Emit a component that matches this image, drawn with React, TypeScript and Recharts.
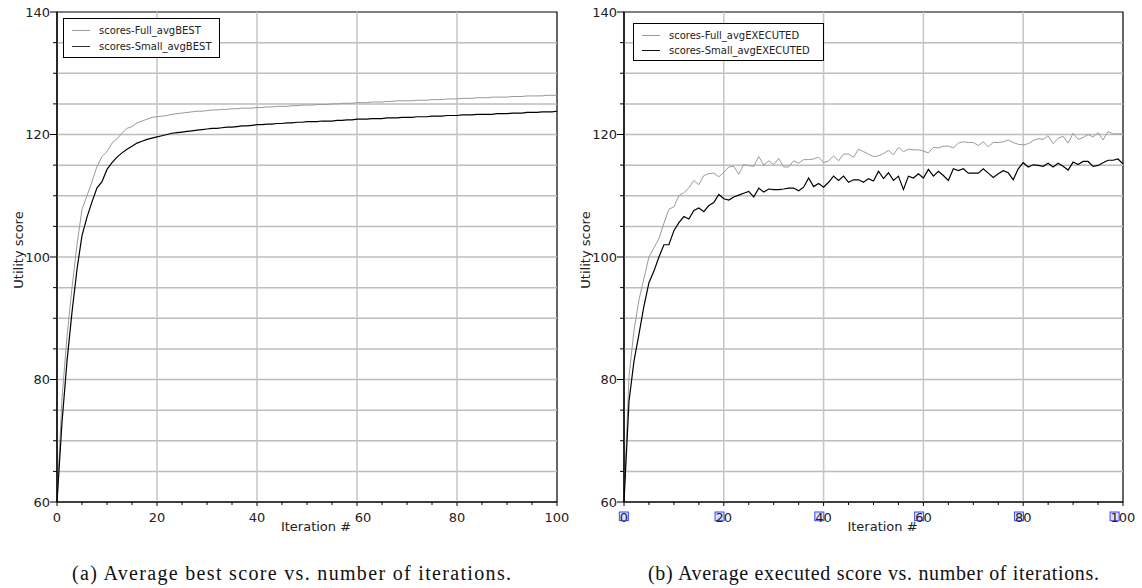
import React from "react"
import {
  Line,
  LineChart,
  ReferenceArea,
  ReferenceLine,
  XAxis,
  YAxis,
} from "recharts"

// iteration index 0..100
const iterations = Array.from({ length: 101 }, (_, i) => i)

const xTicks = [0, 5, 10, 15, 20, 25, 30, 35, 40, 45, 50, 55, 60, 65, 70, 75, 80, 85, 90, 95, 100]
const yTicks = [60, 65, 70, 75, 80, 85, 90, 95, 100, 105, 110, 115, 120, 125, 130, 135, 140]
const xGrid = [20, 40, 60, 80]
const yGrid = [65, 70, 75, 80, 85, 90, 95, 100, 105, 110, 115, 120, 125, 130, 135]

const fullBest = [
  60, 77, 87, 95, 102, 107.8, 110, 112.3, 114.8, 116.4, 117.2,
  118.6, 119.3, 120.2, 121, 121.3, 121.9, 122.2, 122.5, 122.8, 122.9,
  123.0, 123.1, 123.3, 123.4, 123.5, 123.6, 123.7, 123.8, 123.8, 123.9,
  124.0, 124.0, 124.1, 124.1, 124.2, 124.2, 124.3, 124.3, 124.3, 124.4,
  124.4, 124.5, 124.5, 124.6, 124.6, 124.6, 124.7, 124.7, 124.8, 124.8,
  124.8, 124.9, 124.9, 124.9, 125.0, 125.0, 125.1, 125.1, 125.1, 125.2,
  125.2, 125.2, 125.3, 125.3, 125.3, 125.4, 125.4, 125.5, 125.5, 125.5,
  125.5, 125.6, 125.6, 125.6, 125.7, 125.7, 125.7, 125.8, 125.8, 125.8,
  125.9, 125.9, 125.9, 126.0, 126.0, 126.0, 126.1, 126.1, 126.1, 126.1,
  126.2, 126.2, 126.2, 126.3, 126.3, 126.3, 126.3, 126.4, 126.4, 126.4,
]

const smallBest = [
  60, 73, 83, 91, 98, 103.5, 106.5, 109, 111.3, 112.3, 114.3,
  115.4, 116.3, 117.0, 117.6, 118.1, 118.6, 118.9, 119.2, 119.4, 119.6,
  119.8, 120.0, 120.2, 120.3, 120.4, 120.5, 120.6, 120.7, 120.8, 120.9,
  121.0, 121.0, 121.1, 121.2, 121.2, 121.3, 121.4, 121.4, 121.5, 121.6,
  121.6, 121.7, 121.7, 121.8, 121.8, 121.9, 121.9, 122.0, 122.0, 122.1,
  122.1, 122.1, 122.2, 122.2, 122.2, 122.3, 122.3, 122.4, 122.4, 122.5,
  122.5, 122.5, 122.6, 122.6, 122.6, 122.7, 122.7, 122.7, 122.8, 122.8,
  122.8, 122.9, 122.9, 122.9, 123.0, 123.0, 123.0, 123.1, 123.1, 123.1,
  123.2, 123.2, 123.2, 123.3, 123.3, 123.3, 123.3, 123.4, 123.4, 123.4,
  123.5, 123.5, 123.5, 123.6, 123.6, 123.6, 123.7, 123.7, 123.7, 123.8,
]

const fullExecuted = [
  60, 80.5, 88, 93, 96.5, 100, 101.5, 103, 105.5, 107.8, 108.2,
  110, 110.5, 111.3, 112.5, 111.8, 113.3, 113.6, 113.7, 113.1, 113.8,
  114.7, 114.8, 113.5, 115.1, 114.9, 114.8, 116.4, 115, 115.7, 115.1,
  116.1, 114.7, 114.7, 115.7, 115.3, 115.9, 115.9, 116, 116.3, 115.4,
  115.7, 116.5, 115.7, 116.8, 116.8, 116.3, 117.6, 117.2, 116.8, 116.4,
  116.5, 116.9, 117.4, 116.7, 117.9, 117.2, 117.6, 117.5, 117.5, 117.3,
  117, 117.9, 117.8, 118.1, 118.1, 117.8, 118.6, 118.8, 118.7, 118.7,
  118.2, 118.8, 118, 118.7, 118.7, 118.8, 119.1, 118.7, 118.4, 118.3,
  118.5, 119, 119.3, 119.2, 119.8, 118.5, 119.4, 119.7, 118.6, 120.2,
  119.2, 119.5, 120, 119.6, 120.3, 119.1, 120.5, 120.1, 120.1, 120.1,
]

const smallExecuted = [
  60, 76.4, 83, 87.4, 92, 95.8, 97.7, 100, 102, 102, 104.3,
  105.6, 106.6, 106.2, 107.6, 108, 107.4, 108.4, 108.9, 110.2, 109.5,
  109.3, 109.8, 110.1, 110.4, 110.7, 109.8, 111.25, 110.6, 111.1, 111,
  111, 111.1, 111.25, 111.25, 110.8, 111.4, 112.9, 111.5, 112, 111.4,
  112.2, 113.2, 112.5, 113.2, 112.2, 112.6, 112.6, 112.2, 112.8, 112.4,
  114, 112.8, 113.75, 112.5, 113.2, 111, 113.2, 112.9, 113.6, 112.9,
  114.3, 113.2, 114, 113.3, 112.5, 114.4, 114.1, 114.4, 113.7, 113.7,
  113.7, 114.4, 113.7, 113, 113.6, 114.1, 113.75, 112.6, 114.4, 115.4,
  114.7, 115.05, 114.95, 114.8, 115.3, 114.7, 115.3, 114.8, 114.2, 115.5,
  115.1, 115.6, 115.6, 114.8, 114.95, 115.4, 115.8, 115.8, 116, 115.2,
]

const FONT = "DejaVu Sans"
const FULL_COLOR = "#9a9a9a"
const SMALL_COLOR = "#000"

function YTick({ x, y, payload }: any) {
  const major = payload.value % 20 === 0
  return (
    <g>
      <line x1={x - (major ? 7 : 4)} x2={x} y1={y} y2={y} stroke="#000" />
      {major && (
        <text x={x - 7} y={y + 4.5} textAnchor="end" fontSize={13} fontFamily={FONT} fill="#222">
          {payload.value}
        </text>
      )}
    </g>
  )
}

function XTickA({ x, y, payload }: any) {
  const major = payload.value % 20 === 0
  // the 60 label sits a little to the right in the original
  const shift = payload.value === 60 ? 6 : 0
  return (
    <g>
      <line x1={x} x2={x} y1={y} y2={y + (major ? 4 : 3)} stroke="#000" />
      {major && (
        <text x={x + shift} y={y + 19.5} textAnchor="middle" fontSize={13} fontFamily={FONT} fill="#222">
          {payload.value}
        </text>
      )}
    </g>
  )
}

function XTickB({ x, y, payload }: any) {
  const major = payload.value % 20 === 0
  const label = String(payload.value)
  const left = x - (label.length * 8.27) / 2
  return (
    <g>
      <line x1={x} x2={x} y1={y} y2={y + (major ? 4 : 3)} stroke="#000" />
      {major && (
        <g>
          <rect x={left - 0.5} y={y + 10} width={9} height={8.7} fill="rgba(150,160,255,0.3)" stroke="#3a46ff" strokeWidth={1} />
          <text x={x} y={y + 19.5} textAnchor="middle" fontSize={13} fontFamily={FONT} fill="#222">
            {label}
          </text>
        </g>
      )}
    </g>
  )
}

function YLabel({ viewBox }: any) {
  const cx = viewBox.x + viewBox.width - 39
  const cy = 250
  return (
    <text x={cx} y={cy} transform={`rotate(-90 ${cx} ${cy})`} textAnchor="middle" dominantBaseline="central" fontSize={13} fontFamily={FONT} fill="#222">
      Utility score
    </text>
  )
}

function XLabel({ viewBox }: any) {
  return (
    <text x={viewBox.x + viewBox.width / 2 + 9} y={531} textAnchor="middle" fontSize={13} fontFamily={FONT} fill="#222">
      Iteration #
    </text>
  )
}

function LegendBox({ left, top, width, height, gap, items }: any) {
  return (
    <div
      style={{
        position: "absolute",
        left,
        top,
        width,
        height,
        border: "1px solid #000",
        boxSizing: "border-box",
        background: "#fff",
        fontFamily: FONT,
        fontSize: 10,
        color: "#222",
      }}
    >
      {items.map((it: any, i: number) => (
        <div key={it.name} style={{ position: "absolute", left: 8, top: 5 + i * gap, height: 12, display: "flex", alignItems: "center", whiteSpace: "nowrap" }}>
          <span style={{ display: "inline-block", width: 18, height: 0, borderTop: `${it.w}px solid ${it.color}`, marginRight: 9 }} />
          <span>{it.name}</span>
        </div>
      ))}
    </div>
  )
}

function Panel({ full, small, tick, margin, width }: any) {
  const data = iterations.map((it, i) => ({ it, full: full[i], small: small[i] }))
  return (
    <LineChart width={width} height={560} data={data} margin={margin}>
      {yGrid.map((v) => (
        <ReferenceLine key={"y" + v} y={v} stroke="#bcbcbc" strokeWidth={1.5} />
      ))}
      {xGrid.map((v) => (
        <ReferenceLine key={"x" + v} x={v} stroke="#c6c6c6" strokeWidth={1.5} />
      ))}
      <XAxis
        dataKey="it"
        type="number"
        domain={[0, 100]}
        ticks={xTicks}
        interval={0}
        height={30}
        tickSize={0}
        tickMargin={0}
        tickLine={false}
        tick={tick}
        axisLine={{ stroke: "#000", strokeWidth: 1.2 }}
        label={<XLabel />}
      />
      <YAxis
        type="number"
        domain={[60, 140]}
        ticks={yTicks}
        interval={0}
        width={40}
        tickSize={0}
        tickMargin={0}
        tickLine={false}
        tick={<YTick />}
        axisLine={{ stroke: "#000", strokeWidth: 1.2 }}
        label={<YLabel />}
      />
      <Line type="linear" dataKey="full" stroke={FULL_COLOR} strokeWidth={1} dot={false} isAnimationActive={false} />
      <Line type="linear" dataKey="small" stroke={SMALL_COLOR} strokeWidth={1.2} dot={false} isAnimationActive={false} />
      <ReferenceArea x1={0} x2={100} y1={60} y2={140} fill="none" stroke="#000" strokeWidth={1.2} />
    </LineChart>
  )
}

export default function App() {
  return (
    <div style={{ position: "absolute", left: 0, top: 0, width: 1142, height: 588, background: "#fff" }}>
      <div style={{ position: "absolute", left: 0, top: 0 }}>
        <Panel full={fullBest} small={smallBest} tick={<XTickA />} width={570} margin={{ top: 12, right: 13, bottom: 28, left: 17 }} />
        <LegendBox
          left={63}
          top={18}
          width={157}
          height={40}
          gap={16}
          items={[
            { name: "scores-Full_avgBEST", color: FULL_COLOR, w: 1 },
            { name: "scores-Small_avgBEST", color: "#333", w: 1.5 },
          ]}
        />
      </div>
      <div style={{ position: "absolute", left: 570, top: 0 }}>
        <Panel full={fullExecuted} small={smallExecuted} tick={<XTickB />} width={572} margin={{ top: 12, right: 19, bottom: 28, left: 14 }} />
        <LegendBox
          left={63}
          top={23}
          width={191}
          height={38}
          gap={15}
          items={[
            { name: "scores-Full_avgEXECUTED", color: FULL_COLOR, w: 1 },
            { name: "scores-Small_avgEXECUTED", color: "#111", w: 1.5 },
          ]}
        />
      </div>
      <svg width={1142} height={588} style={{ position: "absolute", left: 0, top: 0, pointerEvents: "none" }}>
        <text x={291.5} y={580} textAnchor="middle" fontSize={20} fontFamily="Liberation Serif" fill="#111" textLength={439} lengthAdjust="spacing">
          (a) Average best score vs. number of iterations.
        </text>
        <text x={873.5} y={580} textAnchor="middle" fontSize={20} fontFamily="Liberation Serif" fill="#111" textLength={451} lengthAdjust="spacing">
          (b) Average executed score vs. number of iterations.
        </text>
      </svg>
    </div>
  )
}
